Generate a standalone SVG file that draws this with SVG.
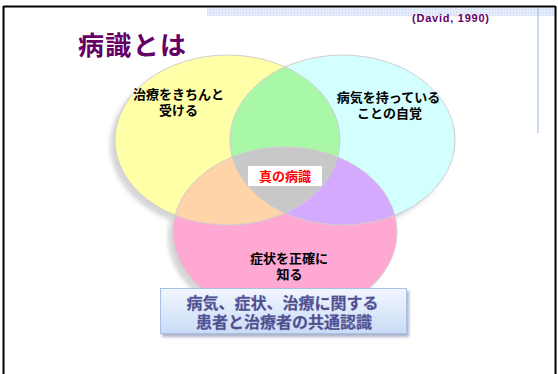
<svg xmlns="http://www.w3.org/2000/svg" width="558" height="374" viewBox="0 0 558 374">
<style>
.lbl{font-family:"Noto Sans CJK JP","Liberation Sans",sans-serif;font-weight:bold;font-size:13px;fill:#000;text-anchor:middle}
.ol{fill:none;stroke:#cfcfcf;stroke-width:1}
.box{font-family:"Noto Sans CJK JP","Liberation Sans",sans-serif;font-weight:bold;font-size:16px;fill:#4a4a8c;text-anchor:middle;stroke:#7a7ab0;stroke-width:0.3}
</style>
<defs>
<filter id="blur" x="-20%" y="-20%" width="140%" height="140%"><feGaussianBlur stdDeviation="2"/></filter>
<filter id="bshadow" x="-10%" y="-20%" width="120%" height="150%"><feGaussianBlur stdDeviation="1.5"/></filter>
<clipPath id="cY"><ellipse cx="227.5" cy="140" rx="112.5" ry="85"/></clipPath>
<clipPath id="cC"><ellipse cx="342.5" cy="140" rx="112.5" ry="85"/></clipPath>
<clipPath id="cYC" clip-path="url(#cY)"><ellipse cx="342.5" cy="140" rx="112.5" ry="85"/></clipPath>
<linearGradient id="gBox" x1="0" y1="0" x2="0" y2="1">
<stop offset="0" stop-color="#f2f6ff"/>
<stop offset="1" stop-color="#c9dcf6"/>
</linearGradient>
<pattern id="hatch" width="3" height="3" patternUnits="userSpaceOnUse">
<rect width="3" height="3" fill="#e4ecfb"/>
<rect width="1" height="1" fill="#c8d6f4"/>
</pattern>
</defs>
<rect width="558" height="374" fill="#fff"/>
<g id="frame">
<rect x="207" y="8" width="348" height="8" fill="url(#hatch)"/>
<line x1="538" y1="8" x2="538" y2="133" stroke="#a8c0f0" stroke-width="1.2"/>
<line x1="3.5" y1="6.5" x2="555.5" y2="6.5" stroke="#000" stroke-width="2"/>
<line x1="3.5" y1="6" x2="3.5" y2="374" stroke="#000" stroke-width="2"/>
<line x1="555.5" y1="6" x2="555.5" y2="374" stroke="#000" stroke-width="2"/>
</g>
<g id="title">
<text x="78" y="55" font-family="'Noto Sans CJK JP','Liberation Sans',sans-serif" font-weight="bold" font-size="26" fill="#660066" textLength="108">病識とは</text>
</g>
<g id="citation">
<text x="412" y="22" font-family="'Liberation Sans',sans-serif" font-weight="bold" font-size="11" fill="#660066" textLength="77">(David, 1990)</text>
</g>
<g id="shadows" filter="url(#blur)" fill="#d6d6d6">
<ellipse cx="222.5" cy="145" rx="112.5" ry="85"/>
<ellipse cx="337.5" cy="145" rx="112.5" ry="85"/>
<ellipse cx="280" cy="237" rx="112" ry="85"/>
</g>
<g id="circle-treatment">
<ellipse cx="227.5" cy="140" rx="112.5" ry="85" fill="#ffffa8"/>
</g>
<g id="circle-awareness">
<ellipse cx="342.5" cy="140" rx="112.5" ry="85" fill="#d4ffff"/>
</g>
<g id="circle-symptom">
<ellipse cx="285" cy="232" rx="112" ry="85" fill="#ffa8d4"/>
</g>
<g id="overlaps">
<ellipse cx="342.5" cy="140" rx="112.5" ry="85" fill="#a8f8a8" clip-path="url(#cY)"/>
<ellipse cx="285" cy="232" rx="112" ry="85" fill="#ffd4a8" clip-path="url(#cY)"/>
<ellipse cx="285" cy="232" rx="112" ry="85" fill="#d4aaff" clip-path="url(#cC)"/>
<ellipse cx="285" cy="232" rx="112" ry="85" fill="#c8c8c8" clip-path="url(#cYC)"/>
<ellipse class="ol" cx="227.5" cy="140" rx="112.5" ry="85"/>
<ellipse class="ol" cx="342.5" cy="140" rx="112.5" ry="85"/>
<ellipse class="ol" cx="285" cy="232" rx="112" ry="85"/>
</g>
<g id="label-treatment">
<text class="lbl"><tspan x="178.5" y="99">治療をきちんと</tspan><tspan x="178.5" y="114.6">受ける</tspan></text>
</g>
<g id="label-awareness">
<text class="lbl"><tspan x="388.5" y="102">病気を持っている</tspan><tspan x="389.5" y="117.6">ことの自覚</tspan></text>
</g>
<g id="label-symptom">
<text class="lbl"><tspan x="289" y="263">症状を正確に</tspan><tspan x="289.5" y="278.6">知る</tspan></text>
</g>
<g id="center">
<rect x="248" y="166" width="74" height="20" fill="#fff"/>
<text x="285" y="181" font-family="'Noto Sans CJK JP','Liberation Sans',sans-serif" font-weight="bold" font-size="13" fill="#ff0000" text-anchor="middle">真の病識</text>
</g>
<g id="summary">
<rect x="162" y="291" width="247" height="46" fill="#aab4c8" filter="url(#bshadow)"/>
<rect x="160.5" y="288.5" width="246" height="45" fill="url(#gBox)" stroke="#a9c0e2" stroke-width="1"/>
<text class="box"><tspan x="282.5" y="309">病気、症状、治療に関する</tspan><tspan x="284" y="328.2">患者と治療者の共通認識</tspan></text>
</g>
</svg>
